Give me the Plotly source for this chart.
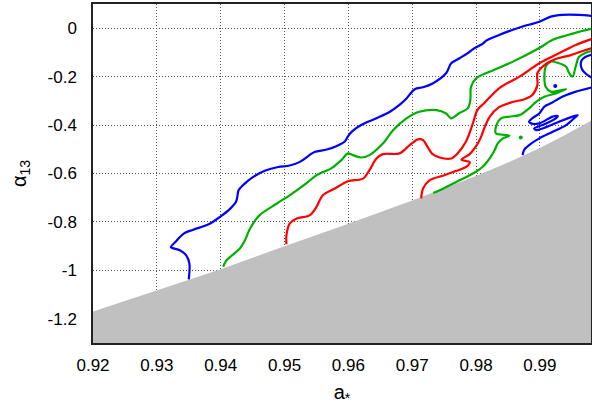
import plotly.graph_objects as go

# Axis ticks
x_ticks = [0.92, 0.93, 0.94, 0.95, 0.96, 0.97, 0.98, 0.99]
x_tick_text = ["0.92", "0.93", "0.94", "0.95", "0.96", "0.97", "0.98", "0.99"]
y_ticks = [0, -0.2, -0.4, -0.6, -0.8, -1.0, -1.2]
y_tick_text = ["0", "-0.2", "-0.4", "-0.6", "-0.8", "-1", "-1.2"]

# Excluded (grey) region: lower boundary in (a*, alpha13)
bound_a = [0.92, 0.93, 0.94, 0.95, 0.96, 0.97, 0.975, 0.98, 0.985, 0.99, 0.994, 0.9985]
bound_alpha = [-1.170, -1.083, -0.995, -0.900, -0.808, -0.712, -0.662, -0.610, -0.555, -0.495, -0.440, -0.375]

# Blue contour (outer)
blue_outer_a = [0.9350, 0.9351, 0.9346, 0.9336, 0.9322, 0.9329, 0.9342, 0.9357, 0.9381, 0.9399,
                0.9415, 0.9424, 0.9426, 0.9428, 0.9435, 0.9451, 0.9469, 0.9490, 0.9508, 0.9524,
                0.9539, 0.9547, 0.9566, 0.9581, 0.9594, 0.9599, 0.9605, 0.9620, 0.9644, 0.9665,
                0.9680, 0.9691, 0.9704, 0.9717, 0.9732, 0.9753, 0.9761, 0.9774, 0.9787, 0.9797,
                0.9810, 0.9816, 0.9836, 0.9868, 0.9899, 0.9917, 0.9935, 0.9961, 0.9985]
blue_outer_alpha = [-1.037, -0.972, -0.938, -0.917, -0.904, -0.883, -0.848, -0.832, -0.810, -0.779,
                    -0.745, -0.717, -0.697, -0.669, -0.648, -0.614, -0.589, -0.573, -0.567, -0.552,
                    -0.524, -0.511, -0.501, -0.487, -0.469, -0.448, -0.428, -0.400, -0.372, -0.345,
                    -0.317, -0.290, -0.252, -0.244, -0.228, -0.186, -0.145, -0.124, -0.103, -0.083,
                    -0.065, -0.051, -0.028, 0.003, 0.027, 0.048, 0.055, 0.055, 0.050]

# Blue contour: piece at the right edge
blue_edge_a = [0.9985, 0.9971, 0.9965, 0.9964, 0.9966, 0.9972, 0.9985]
blue_edge_alpha = [-0.106, -0.119, -0.134, -0.151, -0.170, -0.188, -0.210]

# Blue contour: zig-zag piece near the boundary
blue_zig_a = [0.9873, 0.9875, 0.9883, 0.9899, 0.9920, 0.9941, 0.9956, 0.9959, 0.9951, 0.9930,
              0.9904, 0.9894, 0.9891, 0.9904, 0.9925, 0.9928, 0.9920, 0.9899, 0.9886, 0.9883,
              0.9888, 0.9899, 0.9907, 0.9918, 0.9935, 0.9954, 0.9985]
blue_zig_alpha = [-0.524, -0.504, -0.483, -0.455, -0.428, -0.400, -0.366, -0.359, -0.365, -0.386,
                  -0.414, -0.421, -0.414, -0.400, -0.372, -0.363, -0.365, -0.393, -0.393, -0.386,
                  -0.372, -0.352, -0.324, -0.309, -0.283, -0.264, -0.242]

blue_dot_a = [0.9924]
blue_dot_alpha = [-0.239]

# Green contour (upper)
green_upper_a = [0.9404, 0.9409, 0.9430, 0.9438, 0.9446, 0.9461, 0.9488, 0.9508, 0.9534, 0.9550,
                 0.9573, 0.9589, 0.9599, 0.9607, 0.9620, 0.9633, 0.9654, 0.9670, 0.9691, 0.9711,
                 0.9738, 0.9753, 0.9761, 0.9774, 0.9787, 0.9791, 0.9792, 0.9800, 0.9821, 0.9857,
                 0.9899, 0.9920, 0.9941, 0.9961, 0.9985]
green_upper_alpha = [-0.986, -0.959, -0.910, -0.876, -0.827, -0.772, -0.724, -0.690, -0.641, -0.607,
                     -0.579, -0.545, -0.517, -0.524, -0.534, -0.524, -0.476, -0.421, -0.372, -0.345,
                     -0.338, -0.352, -0.372, -0.350, -0.331, -0.297, -0.242, -0.207, -0.180, -0.139,
                     -0.082, -0.048, -0.030, -0.015, 0.000]

# Green contour (lower, with inner loop)
green_lower_a = [0.9733, 0.9743, 0.9769, 0.9795, 0.9810, 0.9823, 0.9829, 0.9834, 0.9842, 0.9852,
                 0.9839, 0.9831, 0.9832, 0.9839, 0.9852, 0.9868, 0.9883, 0.9894, 0.9907, 0.9925,
                 0.9941, 0.9930, 0.9917, 0.9909, 0.9907, 0.9909, 0.9917, 0.9930, 0.9941, 0.9946,
                 0.9951, 0.9956, 0.9961, 0.9971, 0.9985]
green_lower_alpha = [-0.681, -0.669, -0.635, -0.600, -0.573, -0.531, -0.504, -0.476, -0.455, -0.444,
                     -0.439, -0.434, -0.400, -0.372, -0.365, -0.359, -0.331, -0.304, -0.283, -0.269,
                     -0.252, -0.258, -0.262, -0.242, -0.200, -0.159, -0.138, -0.145, -0.159, -0.186,
                     -0.200, -0.159, -0.119, -0.102, -0.092]

green_dot_a = [0.9870]
green_dot_alpha = [-0.451]

# Red contour (upper)
red_upper_a = [0.9503, 0.9503, 0.9508, 0.9519, 0.9540, 0.9550, 0.9560, 0.9579, 0.9599, 0.9623,
               0.9633, 0.9644, 0.9654, 0.9680, 0.9696, 0.9709, 0.9717, 0.9724, 0.9732, 0.9748,
               0.9761, 0.9771, 0.9784, 0.9795, 0.9802, 0.9813, 0.9836, 0.9868, 0.9899, 0.9925,
               0.9956, 0.9985]
red_upper_alpha = [-0.892, -0.855, -0.807, -0.786, -0.772, -0.738, -0.690, -0.662, -0.632, -0.621,
                   -0.586, -0.538, -0.520, -0.517, -0.483, -0.459, -0.462, -0.490, -0.520, -0.537,
                   -0.538, -0.517, -0.469, -0.393, -0.338, -0.309, -0.248, -0.200, -0.145, -0.110,
                   -0.069, -0.041]

# Red contour (lower)
red_lower_a = [0.9714, 0.9717, 0.9727, 0.9748, 0.9768, 0.9785, 0.9790, 0.9777, 0.9790, 0.9800,
               0.9807, 0.9813, 0.9821, 0.9836, 0.9857, 0.9876, 0.9888, 0.9896, 0.9896, 0.9907,
               0.9925, 0.9946, 0.9967, 0.9985]
red_lower_alpha = [-0.703, -0.662, -0.628, -0.609, -0.590, -0.572, -0.553, -0.543, -0.520, -0.487,
                   -0.454, -0.412, -0.367, -0.326, -0.305, -0.293, -0.276, -0.235, -0.186, -0.152,
                   -0.127, -0.113, -0.094, -0.079]

BLUE = "#0000ff"
GREEN = "#00b000"
RED = "#ff0000"
GREY = "#c0c0c0"

x_min, x_max = 0.92, 0.998
y_min, y_max = -1.3, 0.1

fig = go.Figure()

# grey excluded region
fig.add_trace(go.Scatter(
    x=bound_a + [bound_a[-1], bound_a[0]],
    y=bound_alpha + [y_min - 0.05, y_min - 0.05],
    mode="lines", fill="toself", fillcolor=GREY,
    line=dict(width=0, color=GREY), hoverinfo="skip",
))


def contour(xs, ys, color):
    fig.add_trace(go.Scatter(
        x=xs, y=ys, mode="lines",
        line=dict(color=color, width=2.2, shape="spline", smoothing=0.9),
        hoverinfo="skip",
    ))


contour(blue_outer_a, blue_outer_alpha, BLUE)
contour(blue_edge_a, blue_edge_alpha, BLUE)
contour(blue_zig_a, blue_zig_alpha, BLUE)
contour(green_upper_a, green_upper_alpha, GREEN)
contour(green_lower_a, green_lower_alpha, GREEN)
contour(red_upper_a, red_upper_alpha, RED)
contour(red_lower_a, red_lower_alpha, RED)

fig.add_trace(go.Scatter(x=blue_dot_a, y=blue_dot_alpha, mode="markers",
                         marker=dict(color=BLUE, size=4), hoverinfo="skip"))
fig.add_trace(go.Scatter(x=green_dot_a, y=green_dot_alpha, mode="markers",
                         marker=dict(color=GREEN, size=4), hoverinfo="skip"))

axis_common = dict(
    showline=True, mirror=True, linecolor="#222222", linewidth=1.5,
    showgrid=True, gridcolor="#555555", gridwidth=1, griddash="1px,2px",
    zeroline=False, ticks="", tickfont=dict(size=17, color="black"),
    automargin=False,
)

fig.update_layout(
    width=592, height=406,
    margin=dict(l=93, r=1, t=4, b=63),
    paper_bgcolor="white", plot_bgcolor="white",
    font=dict(family="Liberation Sans, Arial, sans-serif", color="black"),
    showlegend=False,
    xaxis=dict(range=[x_min, x_max], tickvals=x_ticks, ticktext=x_tick_text,
               ticklabelstandoff=6,
               title=dict(text="a<sub>*</sub>", font=dict(size=20), standoff=19),
               **axis_common),
    yaxis=dict(range=[y_min, y_max], tickvals=y_ticks, ticktext=y_tick_text,
               ticklabelstandoff=11,
               title=dict(text="α<sub>13</sub>", font=dict(size=20), standoff=16),
               **axis_common),
)

fig.write_html("out.html")
